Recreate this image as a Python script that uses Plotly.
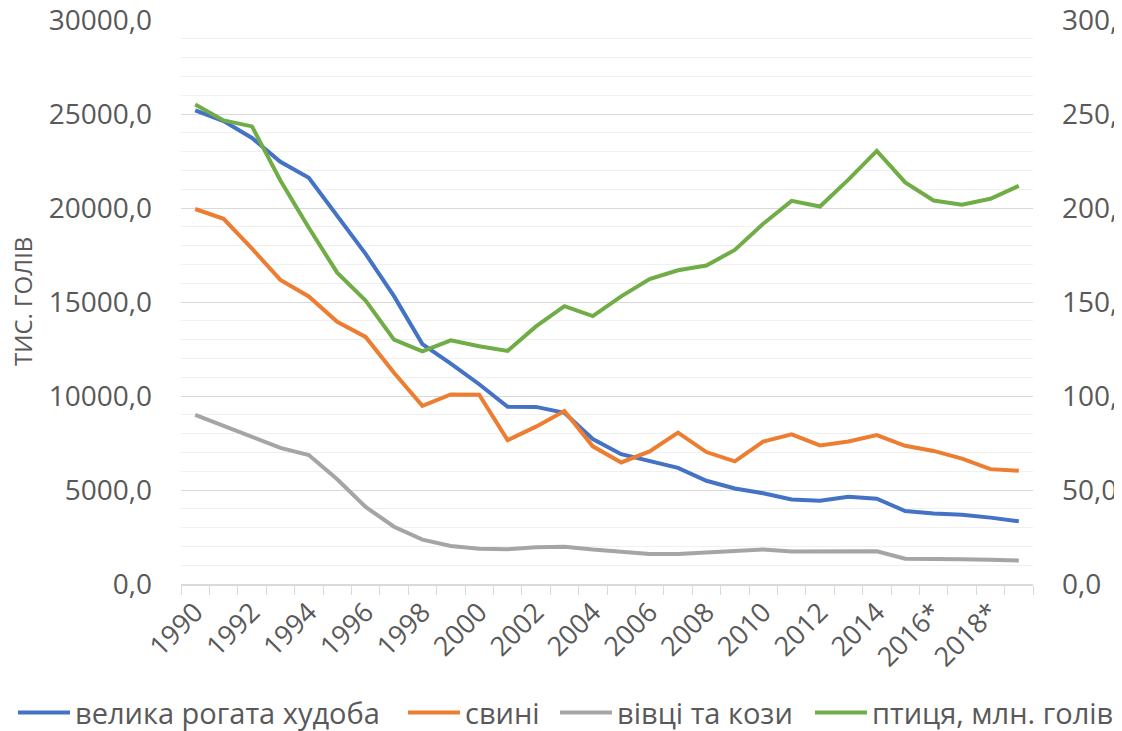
import plotly.graph_objects as go

years = [str(y) for y in range(1990, 2016)] + ["2016*", "2017*", "2018*", "2019*"]

cattle = [25195.5, 24623.4, 23727.7, 22456.8, 21607.0, 19624.0, 17557.3, 15313.2, 12759.5, 11721.7,
          10626.5, 9423.7, 9421.1, 9108.4, 7712.1, 6902.6, 6514.4, 6175.4, 5490.9, 5079.0,
          4826.7, 4494.4, 4425.7, 4645.3, 4534.0, 3884.0, 3750.0, 3682.3, 3530.9, 3332.6]
pigs = [19946.6, 19426.9, 17838.9, 16174.6, 15297.9, 13945.5, 13144.4, 11235.5, 9478.7, 10083.4,
        10072.9, 7652.3, 8369.5, 9203.7, 7321.9, 6466.1, 7052.8, 8055.1, 7019.9, 6526.0,
        7576.6, 7960.4, 7373.2, 7576.7, 7922.2, 7350.7, 7079.0, 6669.1, 6110.0, 6025.2]
sheep_goats = [8999.9, 8418.8, 7829.1, 7236.6, 6862.9, 5574.7, 4098.9, 3047.2, 2362.0, 2026.4,
               1875.0, 1850.9, 1955.1, 1980.5, 1831.1, 1717.4, 1602.3, 1590.6, 1662.8, 1731.6,
               1832.8, 1725.6, 1733.7, 1738.2, 1735.6, 1346.2, 1306.7, 1313.8, 1283.9, 1250.0]
poultry = [255.1, 246.6, 243.4, 214.6, 189.5, 165.6, 150.7, 130.0, 123.7, 129.6,
           126.5, 124.0, 137.0, 147.8, 142.5, 153.0, 162.2, 166.9, 169.4, 177.7,
           191.6, 203.8, 200.8, 215.1, 230.4, 213.6, 204.0, 201.7, 204.9, 211.8]

names = ["велика рогата худоба", "свині", "вівці та кози", "птиця, млн. голів"]
colors = ["#4472C4", "#ED7D31", "#A5A5A5", "#70AD47"]

FONT = "Open Sans"
TXT = "#595959"

x_idx = list(range(len(years)))

# plot area in screen pixels: x 181..1033 (852 wide), y 20..584 (564 tall)
PL, PW, PB, PH = 181, 852, 584, 564
legend_ids = ["legend", "legend2", "legend3", "legend4"]
legend_px = [13, 403, 555, 810]

fig = go.Figure()
for vals, name, col, yax, lg in [(cattle, names[0], colors[0], "y", legend_ids[0]),
                                 (pigs, names[1], colors[1], "y", legend_ids[1]),
                                 (sheep_goats, names[2], colors[2], "y", legend_ids[2]),
                                 (poultry, names[3], colors[3], "y2", legend_ids[3])]:
    fig.add_trace(go.Scatter(x=x_idx, y=vals, name=name, mode="lines", yaxis=yax, legend=lg,
                             line=dict(color=col, width=4), hoverinfo="skip"))

legend_common = dict(orientation="h", xanchor="left", y=-0.183, yanchor="top",
                     font=dict(family=FONT, size=29, color=TXT),
                     itemwidth=52, bgcolor="rgba(0,0,0,0)")
legends = {}
for lg, px in zip(legend_ids, legend_px):
    legends[lg] = dict(legend_common, x=(px - PL) / PW)

fig.update_layout(
    width=1114, height=723,
    margin=dict(l=173, r=89, t=12, b=147, autoexpand=False),
    paper_bgcolor="white", plot_bgcolor="white",
    separators=", ",
    font=dict(family=FONT, color=TXT, size=27),
    showlegend=True,
    xaxis=dict(
        range=[-0.5, len(years) - 0.5],
        tickvals=x_idx[::2], ticktext=years[::2],
        tickangle=-45, ticks="", ticklabelstandoff=0, ticklabeloverflow="allow",
        tickfont=dict(family=FONT, size=27, color=TXT),
        showgrid=False, zeroline=False, automargin=False,
        showline=True, linecolor="#d9d9d9", linewidth=1.5,
        minor=dict(tickvals=[i - 0.5 for i in range(len(years) + 1)], ticks="outside",
                   ticklen=9, tickcolor="#d9d9d9", tickwidth=1.3, showgrid=False),
    ),
    yaxis=dict(
        range=[0, 30000], dtick=5000, tickformat=".1f",
        tickfont=dict(family=FONT, size=28, color=TXT),
        ticks="", ticklabelstandoff=28, automargin=False, ticklabeloverflow="allow",
        showgrid=True, gridcolor="#d9d9d9", gridwidth=1.4,
        zeroline=False, showline=False,
        minor=dict(dtick=1000, showgrid=True, gridcolor="#f0f0f0", gridwidth=1.4),
    ),
    yaxis2=dict(
        range=[0, 300], dtick=50, tickformat=".1f",
        overlaying="y", side="right", automargin=False, ticklabeloverflow="allow",
        tickfont=dict(family=FONT, size=28, color=TXT),
        ticks="", ticklabelstandoff=28,
        showgrid=False, zeroline=False, showline=False,
    ),
    annotations=[dict(text="ТИС. ГОЛІВ", xref="paper", yref="paper",
                      x=(22 - PL) / PW, y=(PB - 302) / PH, xanchor="center", yanchor="middle",
                      textangle=-90, showarrow=False,
                      font=dict(family=FONT, size=24, color=TXT))],
    **legends,
)

fig.write_html("out.html")
